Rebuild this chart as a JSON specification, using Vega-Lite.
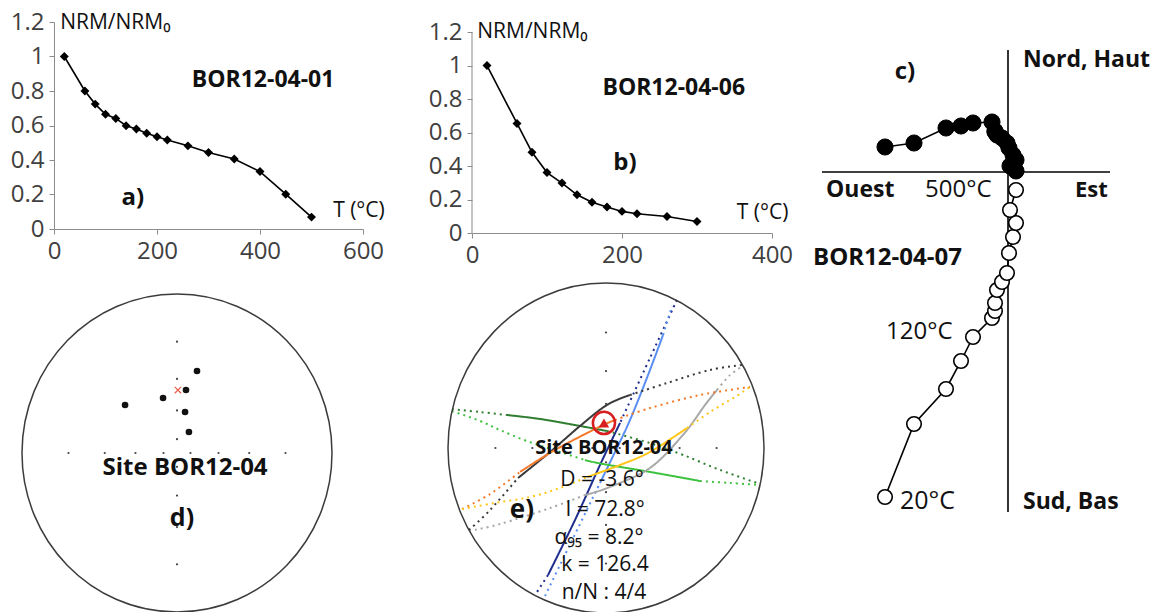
{
 "$schema": "https://vega.github.io/schema/vega-lite/v6.json",
 "autosize": {"type": "none"},
 "padding": {"left": 54, "top": 22, "right": 1100, "bottom": 590},
 "config": {
  "view": {"stroke": null},
  "text": {"font": "Open Sans", "color": "#111", "baseline": "middle"},
  "axis": {"grid": false, "labelFont": "Open Sans", "labelFontSize": 24, "labelColor": "#404040", "domainColor": "#8c8c8c", "tickColor": "#8c8c8c", "tickSize": 5, "labelFlush": false, "labelOverlap": false, "title": null, "labelPadding": 5}
 },
 "datasets": {
  "nrmA": [{"T":20,"r":1.0},{"T":60,"r":0.80},{"T":80,"r":0.724},{"T":100,"r":0.665},{"T":120,"r":0.641},{"T":140,"r":0.599},{"T":160,"r":0.58},{"T":180,"r":0.555},{"T":200,"r":0.535},{"T":220,"r":0.516},{"T":260,"r":0.482},{"T":300,"r":0.443},{"T":350,"r":0.406},{"T":400,"r":0.333},{"T":450,"r":0.202},{"T":500,"r":0.069}],
  "nrmB": [{"T":20,"r":1.0},{"T":60,"r":0.654},{"T":80,"r":0.482},{"T":100,"r":0.361},{"T":120,"r":0.298},{"T":140,"r":0.228},{"T":160,"r":0.184},{"T":180,"r":0.155},{"T":200,"r":0.129},{"T":220,"r":0.115},{"T":260,"r":0.099},{"T":300,"r":0.069}],
  "zij": [
   {"T":20,"E":-12.3,"N":2.5,"Up":-32.5},
   {"T":60,"E":-9.4,"N":2.9,"Up":-25.2},
   {"T":80,"E":-6.2,"N":4.4,"Up":-21.7},
   {"T":100,"E":-4.7,"N":4.6,"Up":-18.9},
   {"T":120,"E":-3.5,"N":4.9,"Up":-16.5},
   {"T":140,"E":-1.6,"N":5.0,"Up":-14.6},
   {"T":160,"E":-1.3,"N":4.1,"Up":-13.9},
   {"T":180,"E":-1.3,"N":4.0,"Up":-13.1},
   {"T":200,"E":-1.1,"N":3.7,"Up":-11.8},
   {"T":220,"E":-0.6,"N":3.4,"Up":-11.0},
   {"T":260,"E":-0.1,"N":2.9,"Up":-10.1},
   {"T":300,"E":0.1,"N":2.4,"Up":-8.1},
   {"T":350,"E":0.5,"N":1.7,"Up":-6.5},
   {"T":400,"E":0.8,"N":1.2,"Up":-5.1},
   {"T":450,"E":0.2,"N":0.6,"Up":-3.8},
   {"T":500,"E":0.8,"N":0.1,"Up":-1.8}
  ],
  "grid": [{"x":0.087,"y":0},{"x":0.268,"y":0},{"x":0.466,"y":0},{"x":0.700,"y":0},{"x":-0.087,"y":0},{"x":-0.268,"y":0},{"x":-0.466,"y":0},{"x":-0.700,"y":0},{"x":0,"y":0.087},{"x":0,"y":0.268},{"x":0,"y":0.466},{"x":0,"y":0.700},{"x":0,"y":-0.087},{"x":0,"y":-0.268},{"x":0,"y":-0.466},{"x":0,"y":-0.700}],
  "dirD": [{"x":0.129,"y":0.516},{"x":0.058,"y":0.396},{"x":-0.090,"y":0.346},{"x":-0.335,"y":0.302},{"x":0.052,"y":0.258},{"x":0.077,"y":0.132}],
  "gcE": [
   {"gc":"navy","seg":"navy-a","part":"rest","i":1,"x":0.449,"y":0.897},{"gc":"navy","seg":"navy-a","part":"rest","i":2,"x":0.278,"y":0.545},{"gc":"navy","seg":"navy-a","part":"rest","i":3,"x":0.089,"y":0.152},
   {"gc":"navy","seg":"navy-b","part":"fit","i":1,"x":0.089,"y":0.152},{"gc":"navy","seg":"navy-b","part":"fit","i":2,"x":-0.038,"y":-0.103},{"gc":"navy","seg":"navy-b","part":"fit","i":3,"x":-0.196,"y":-0.436},{"gc":"navy","seg":"navy-b","part":"fit","i":4,"x":-0.367,"y":-0.770},
   {"gc":"navy","seg":"navy-c","part":"rest","i":1,"x":-0.367,"y":-0.770},{"gc":"navy","seg":"navy-c","part":"rest","i":2,"x":-0.449,"y":-0.891},
   {"gc":"lb","seg":"lb-a","part":"rest","i":1,"x":-0.386,"y":-0.897},{"gc":"lb","seg":"lb-a","part":"rest","i":2,"x":-0.291,"y":-0.709},{"gc":"lb","seg":"lb-a","part":"rest","i":3,"x":-0.177,"y":-0.485},{"gc":"lb","seg":"lb-a","part":"rest","i":4,"x":-0.038,"y":-0.212},
   {"gc":"lb","seg":"lb-b","part":"fit","i":1,"x":-0.038,"y":-0.212},{"gc":"lb","seg":"lb-b","part":"fit","i":2,"x":0.057,"y":-0.024},{"gc":"lb","seg":"lb-b","part":"fit","i":3,"x":0.152,"y":0.170},{"gc":"lb","seg":"lb-b","part":"fit","i":4,"x":0.266,"y":0.442},{"gc":"lb","seg":"lb-b","part":"fit","i":5,"x":0.361,"y":0.685},
   {"gc":"lb","seg":"lb-c","part":"rest","i":1,"x":0.361,"y":0.685},{"gc":"lb","seg":"lb-c","part":"rest","i":2,"x":0.418,"y":0.861},
   {"gc":"g1","seg":"g1-a","part":"rest","i":1,"x":-0.975,"y":0.236},{"gc":"g1","seg":"g1-a","part":"rest","i":2,"x":-0.797,"y":0.218},{"gc":"g1","seg":"g1-a","part":"rest","i":3,"x":-0.627,"y":0.2},
   {"gc":"g1","seg":"g1-b","part":"fit","i":1,"x":-0.627,"y":0.2},{"gc":"g1","seg":"g1-b","part":"fit","i":2,"x":-0.418,"y":0.176},{"gc":"g1","seg":"g1-b","part":"fit","i":3,"x":-0.196,"y":0.139},{"gc":"g1","seg":"g1-b","part":"fit","i":4,"x":0.006,"y":0.103},
   {"gc":"g1","seg":"g1-c","part":"rest","i":1,"x":0.006,"y":0.103},{"gc":"g1","seg":"g1-c","part":"rest","i":2,"x":0.278,"y":0.030},{"gc":"g1","seg":"g1-c","part":"rest","i":3,"x":0.487,"y":-0.042},{"gc":"g1","seg":"g1-c","part":"rest","i":4,"x":0.722,"y":-0.133},{"gc":"g1","seg":"g1-c","part":"rest","i":5,"x":0.975,"y":-0.218},
   {"gc":"g2","seg":"g2-a","part":"rest","i":1,"x":-0.975,"y":0.224},{"gc":"g2","seg":"g2-a","part":"rest","i":2,"x":-0.797,"y":0.164},{"gc":"g2","seg":"g2-a","part":"rest","i":3,"x":-0.671,"y":0.109},{"gc":"g2","seg":"g2-a","part":"rest","i":4,"x":-0.5,"y":0.042},{"gc":"g2","seg":"g2-a","part":"rest","i":5,"x":-0.291,"y":-0.024},{"gc":"g2","seg":"g2-a","part":"rest","i":6,"x":-0.133,"y":-0.073},
   {"gc":"g2","seg":"g2-b","part":"fit","i":1,"x":-0.133,"y":-0.073},{"gc":"g2","seg":"g2-b","part":"fit","i":2,"x":-0.019,"y":-0.097},{"gc":"g2","seg":"g2-b","part":"fit","i":3,"x":0.278,"y":-0.145},{"gc":"g2","seg":"g2-b","part":"fit","i":4,"x":0.595,"y":-0.2},
   {"gc":"g2","seg":"g2-c","part":"rest","i":1,"x":0.595,"y":-0.2},{"gc":"g2","seg":"g2-c","part":"rest","i":2,"x":0.785,"y":-0.212},{"gc":"g2","seg":"g2-c","part":"rest","i":3,"x":0.975,"y":-0.224},
   {"gc":"dg","seg":"dg-a","part":"rest","i":1,"x":-0.867,"y":-0.497},{"gc":"dg","seg":"dg-a","part":"rest","i":2,"x":-0.734,"y":-0.376},{"gc":"dg","seg":"dg-a","part":"rest","i":3,"x":-0.557,"y":-0.182},
   {"gc":"dg","seg":"dg-b","part":"fit","i":1,"x":-0.557,"y":-0.182},{"gc":"dg","seg":"dg-b","part":"fit","i":2,"x":-0.354,"y":-0.024},{"gc":"dg","seg":"dg-b","part":"fit","i":3,"x":-0.165,"y":0.133},{"gc":"dg","seg":"dg-b","part":"fit","i":4,"x":0.006,"y":0.261},{"gc":"dg","seg":"dg-b","part":"fit","i":5,"x":0.152,"y":0.321},
   {"gc":"dg","seg":"dg-c","part":"rest","i":1,"x":0.152,"y":0.321},{"gc":"dg","seg":"dg-c","part":"rest","i":2,"x":0.386,"y":0.394},{"gc":"dg","seg":"dg-c","part":"rest","i":3,"x":0.658,"y":0.473},{"gc":"dg","seg":"dg-c","part":"rest","i":4,"x":0.867,"y":0.503},
   {"gc":"lg","seg":"lg-a","part":"rest","i":1,"x":-0.867,"y":-0.503},{"gc":"lg","seg":"lg-a","part":"rest","i":2,"x":-0.671,"y":-0.461},{"gc":"lg","seg":"lg-a","part":"rest","i":3,"x":-0.354,"y":-0.364},{"gc":"lg","seg":"lg-a","part":"rest","i":4,"x":-0.133,"y":-0.285},
   {"gc":"lg","seg":"lg-b","part":"fit","i":1,"x":-0.133,"y":-0.285},{"gc":"lg","seg":"lg-b","part":"fit","i":2,"x":0.025,"y":-0.236},{"gc":"lg","seg":"lg-b","part":"fit","i":3,"x":0.278,"y":-0.121},{"gc":"lg","seg":"lg-b","part":"fit","i":4,"x":0.487,"y":0.079},{"gc":"lg","seg":"lg-b","part":"fit","i":5,"x":0.627,"y":0.261},{"gc":"lg","seg":"lg-b","part":"fit","i":6,"x":0.703,"y":0.352},
   {"gc":"lg","seg":"lg-c","part":"rest","i":1,"x":0.703,"y":0.352},{"gc":"lg","seg":"lg-c","part":"rest","i":2,"x":0.785,"y":0.442},{"gc":"lg","seg":"lg-c","part":"rest","i":3,"x":0.867,"y":0.497},
   {"gc":"or","seg":"or-a","part":"rest","i":1,"x":-0.911,"y":-0.370},{"gc":"or","seg":"or-a","part":"rest","i":2,"x":-0.734,"y":-0.279},{"gc":"or","seg":"or-a","part":"rest","i":3,"x":-0.544,"y":-0.145},
   {"gc":"or","seg":"or-b","part":"fit","i":1,"x":-0.544,"y":-0.145},{"gc":"or","seg":"or-b","part":"fit","i":2,"x":-0.323,"y":-0.012},{"gc":"or","seg":"or-b","part":"fit","i":3,"x":-0.057,"y":0.121},{"gc":"or","seg":"or-b","part":"fit","i":4,"x":0.057,"y":0.170},
   {"gc":"or","seg":"or-c","part":"rest","i":1,"x":0.057,"y":0.170},{"gc":"or","seg":"or-c","part":"rest","i":2,"x":0.278,"y":0.242},{"gc":"or","seg":"or-c","part":"rest","i":3,"x":0.595,"y":0.321},{"gc":"or","seg":"or-c","part":"rest","i":4,"x":0.911,"y":0.370},
   {"gc":"ye","seg":"ye-a","part":"rest","i":1,"x":-0.911,"y":-0.370},{"gc":"ye","seg":"ye-a","part":"rest","i":2,"x":-0.703,"y":-0.333},{"gc":"ye","seg":"ye-a","part":"rest","i":3,"x":-0.481,"y":-0.297},{"gc":"ye","seg":"ye-a","part":"rest","i":4,"x":-0.291,"y":-0.242},{"gc":"ye","seg":"ye-a","part":"rest","i":5,"x":-0.120,"y":-0.176},
   {"gc":"ye","seg":"ye-b","part":"fit","i":1,"x":-0.120,"y":-0.176},{"gc":"ye","seg":"ye-b","part":"fit","i":2,"x":0.089,"y":-0.103},{"gc":"ye","seg":"ye-b","part":"fit","i":3,"x":0.278,"y":-0.024},{"gc":"ye","seg":"ye-b","part":"fit","i":4,"x":0.513,"y":0.121},
   {"gc":"ye","seg":"ye-c","part":"rest","i":1,"x":0.513,"y":0.121},{"gc":"ye","seg":"ye-c","part":"rest","i":2,"x":0.658,"y":0.218},{"gc":"ye","seg":"ye-c","part":"rest","i":3,"x":0.816,"y":0.309},{"gc":"ye","seg":"ye-c","part":"rest","i":4,"x":0.911,"y":0.370}
  ]
 },
 "columns": 3,
 "align": "each",
 "bounds": "flush",
 "spacing": {"row": 27, "column": 109},
 "concat": [
  {
   "width": 309, "height": 207,
   "layer": [
    {"data": {"name": "nrmA"}, "mark": {"type": "line", "color": "#000", "strokeWidth": 1.6},
     "encoding": {"x": {"field": "T", "type": "quantitative", "scale": {"domain": [0, 600], "nice": false}, "axis": {"values": [0, 200, 400, 600], "labelOverlap": false}}, "y": {"field": "r", "type": "quantitative", "scale": {"domain": [0, 1.2], "nice": false}, "axis": {"values": [0, 0.2, 0.4, 0.6, 0.8, 1, 1.2], "format": ".1~f", "labelOverlap": false}}}},
    {"data": {"name": "nrmA"}, "mark": {"type": "point", "shape": "diamond", "filled": true, "color": "#000", "size": 80, "opacity": 1},
     "encoding": {"x": {"field": "T", "type": "quantitative", "scale": {"domain": [0, 600], "nice": false}, "axis": {"values": [0, 200, 400, 600], "labelOverlap": false}}, "y": {"field": "r", "type": "quantitative", "scale": {"domain": [0, 1.2], "nice": false}, "axis": {"values": [0, 0.2, 0.4, 0.6, 0.8, 1, 1.2], "format": ".1~f", "labelOverlap": false}}}},
    {"data": {"values": [{}]}, "mark": {"type": "text", "text": "NRM/NRM₀", "fontSize": 21, "align": "left"},
     "encoding": {"x": {"datum": 12, "type": "quantitative", "scale": {"domain": [0, 600], "nice": false}, "axis": {"values": [0, 200, 400, 600], "labelOverlap": false}}, "y": {"datum": 1.194, "type": "quantitative", "scale": {"domain": [0, 1.2], "nice": false}, "axis": {"values": [0, 0.2, 0.4, 0.6, 0.8, 1, 1.2], "format": ".1~f", "labelOverlap": false}}}},
    {"data": {"values": [{}]}, "mark": {"type": "text", "text": "BOR12-04-01", "fontSize": 23, "fontWeight": "bold", "align": "center"},
     "encoding": {"x": {"datum": 406, "type": "quantitative", "scale": {"domain": [0, 600], "nice": false}, "axis": {"values": [0, 200, 400, 600], "labelOverlap": false}}, "y": {"datum": 0.864, "type": "quantitative", "scale": {"domain": [0, 1.2], "nice": false}, "axis": {"values": [0, 0.2, 0.4, 0.6, 0.8, 1, 1.2], "format": ".1~f", "labelOverlap": false}}}},
    {"data": {"values": [{}]}, "mark": {"type": "text", "text": "a)", "fontSize": 24, "fontWeight": "bold", "align": "center"},
     "encoding": {"x": {"datum": 153, "type": "quantitative", "scale": {"domain": [0, 600], "nice": false}, "axis": {"values": [0, 200, 400, 600], "labelOverlap": false}}, "y": {"datum": 0.18, "type": "quantitative", "scale": {"domain": [0, 1.2], "nice": false}, "axis": {"values": [0, 0.2, 0.4, 0.6, 0.8, 1, 1.2], "format": ".1~f", "labelOverlap": false}}}},
    {"data": {"values": [{}]}, "mark": {"type": "text", "text": "T (°C)", "fontSize": 21, "align": "left"},
     "encoding": {"x": {"datum": 542, "type": "quantitative", "scale": {"domain": [0, 600], "nice": false}, "axis": {"values": [0, 200, 400, 600], "labelOverlap": false}}, "y": {"datum": 0.104, "type": "quantitative", "scale": {"domain": [0, 1.2], "nice": false}, "axis": {"values": [0, 0.2, 0.4, 0.6, 0.8, 1, 1.2], "format": ".1~f", "labelOverlap": false}}}}
   ]
  },
  {
   "width": 300, "height": 211,
   "layer": [
    {"data": {"values": [{}]}, "mark": {"type": "rule", "color": "#8c8c8c", "strokeWidth": 1},
     "encoding": {"x": {"datum": 0, "type": "quantitative", "scale": {"domain": [0, 400], "nice": false}, "axis": {"values": [0, 200, 400], "labelOverlap": false}}, "y": {"datum": 0, "type": "quantitative", "scale": {"domain": [0, 1.26], "nice": false}, "axis": {"values": [0, 0.2, 0.4, 0.6, 0.8, 1, 1.2], "format": ".1~f", "labelOverlap": false, "domain": false}}, "y2": {"datum": 1.2}}},
    {"data": {"name": "nrmB"}, "mark": {"type": "line", "color": "#000", "strokeWidth": 1.6},
     "encoding": {"x": {"field": "T", "type": "quantitative", "scale": {"domain": [0, 400], "nice": false}, "axis": {"values": [0, 200, 400], "labelOverlap": false}}, "y": {"field": "r", "type": "quantitative", "scale": {"domain": [0, 1.26], "nice": false}, "axis": {"values": [0, 0.2, 0.4, 0.6, 0.8, 1, 1.2], "format": ".1~f", "labelOverlap": false, "domain": false}}}},
    {"data": {"name": "nrmB"}, "mark": {"type": "point", "shape": "diamond", "filled": true, "color": "#000", "size": 80, "opacity": 1},
     "encoding": {"x": {"field": "T", "type": "quantitative", "scale": {"domain": [0, 400], "nice": false}, "axis": {"values": [0, 200, 400], "labelOverlap": false}}, "y": {"field": "r", "type": "quantitative", "scale": {"domain": [0, 1.26], "nice": false}, "axis": {"values": [0, 0.2, 0.4, 0.6, 0.8, 1, 1.2], "format": ".1~f", "labelOverlap": false, "domain": false}}}},
    {"data": {"values": [{}]}, "mark": {"type": "text", "text": "NRM/NRM₀", "fontSize": 21, "align": "left"},
     "encoding": {"x": {"datum": 7, "type": "quantitative", "scale": {"domain": [0, 400], "nice": false}, "axis": {"values": [0, 200, 400], "labelOverlap": false}}, "y": {"datum": 1.2, "type": "quantitative", "scale": {"domain": [0, 1.26], "nice": false}, "axis": {"values": [0, 0.2, 0.4, 0.6, 0.8, 1, 1.2], "format": ".1~f", "labelOverlap": false, "domain": false}}}},
    {"data": {"values": [{}]}, "mark": {"type": "text", "text": "BOR12-04-06", "fontSize": 23, "fontWeight": "bold", "align": "center"},
     "encoding": {"x": {"datum": 269, "type": "quantitative", "scale": {"domain": [0, 400], "nice": false}, "axis": {"values": [0, 200, 400], "labelOverlap": false}}, "y": {"datum": 0.866, "type": "quantitative", "scale": {"domain": [0, 1.26], "nice": false}, "axis": {"values": [0, 0.2, 0.4, 0.6, 0.8, 1, 1.2], "format": ".1~f", "labelOverlap": false, "domain": false}}}},
    {"data": {"values": [{}]}, "mark": {"type": "text", "text": "b)", "fontSize": 24, "fontWeight": "bold", "align": "center"},
     "encoding": {"x": {"datum": 204, "type": "quantitative", "scale": {"domain": [0, 400], "nice": false}, "axis": {"values": [0, 200, 400], "labelOverlap": false}}, "y": {"datum": 0.418, "type": "quantitative", "scale": {"domain": [0, 1.26], "nice": false}, "axis": {"values": [0, 0.2, 0.4, 0.6, 0.8, 1, 1.2], "format": ".1~f", "labelOverlap": false, "domain": false}}}},
    {"data": {"values": [{}]}, "mark": {"type": "text", "text": "T (°C)", "fontSize": 21, "align": "left"},
     "encoding": {"x": {"datum": 353, "type": "quantitative", "scale": {"domain": [0, 400], "nice": false}, "axis": {"values": [0, 200, 400], "labelOverlap": false}}, "y": {"datum": 0.119, "type": "quantitative", "scale": {"domain": [0, 1.26], "nice": false}, "axis": {"values": [0, 0.2, 0.4, 0.6, 0.8, 1, 1.2], "format": ".1~f", "labelOverlap": false, "domain": false}}}}
   ]
  },
  {
   "width": 229, "height": 211,
   "layer": [
    {"data": {"values": [{}]}, "mark": {"type": "rule", "color": "#000", "strokeWidth": 1.6},
     "encoding": {"x": {"datum": -18.6, "type": "quantitative", "scale": {"domain": [-12.7, 10.2], "nice": false, "zero": false}, "axis": null}, "x2": {"datum": 10.2}, "y": {"datum": 0, "type": "quantitative", "scale": {"domain": [-6.1, 15.0], "nice": false, "zero": false}, "axis": null}}},
    {"data": {"values": [{}]}, "mark": {"type": "rule", "color": "#000", "strokeWidth": 1.6},
     "encoding": {"x": {"datum": 0, "type": "quantitative", "scale": {"domain": [-12.7, 10.2], "nice": false, "zero": false}, "axis": null}, "y": {"datum": 12.2, "type": "quantitative", "scale": {"domain": [-6.1, 15.0], "nice": false, "zero": false}, "axis": null}, "y2": {"datum": -34}}},
    {"data": {"name": "zij"}, "mark": {"type": "line", "color": "#000", "strokeWidth": 1.6},
     "encoding": {"x": {"field": "E", "type": "quantitative", "scale": {"domain": [-12.7, 10.2], "nice": false, "zero": false}, "axis": null}, "y": {"field": "N", "type": "quantitative", "scale": {"domain": [-6.1, 15.0], "nice": false, "zero": false}, "axis": null}, "order": {"field": "T"}}},
    {"data": {"name": "zij"}, "mark": {"type": "line", "color": "#000", "strokeWidth": 1.6},
     "encoding": {"x": {"field": "E", "type": "quantitative", "scale": {"domain": [-12.7, 10.2], "nice": false, "zero": false}, "axis": null}, "y": {"field": "Up", "type": "quantitative", "scale": {"domain": [-6.1, 15.0], "nice": false, "zero": false}, "axis": null}, "order": {"field": "T"}}},
    {"data": {"name": "zij"}, "mark": {"type": "point", "shape": "circle", "filled": true, "fill": "#fff", "stroke": "#000", "strokeWidth": 1.6, "size": 210, "opacity": 1},
     "encoding": {"x": {"field": "E", "type": "quantitative", "scale": {"domain": [-12.7, 10.2], "nice": false, "zero": false}, "axis": null}, "y": {"field": "Up", "type": "quantitative", "scale": {"domain": [-6.1, 15.0], "nice": false, "zero": false}, "axis": null}}},
    {"data": {"name": "zij"}, "mark": {"type": "point", "shape": "circle", "filled": true, "fill": "#000", "stroke": "#000", "strokeWidth": 1, "size": 260, "opacity": 1},
     "encoding": {"x": {"field": "E", "type": "quantitative", "scale": {"domain": [-12.7, 10.2], "nice": false, "zero": false}, "axis": null}, "y": {"field": "N", "type": "quantitative", "scale": {"domain": [-6.1, 15.0], "nice": false, "zero": false}, "axis": null}}},
    {"data": {"values": [{}]}, "mark": {"type": "text", "text": "c)", "fontSize": 24, "fontWeight": "bold", "align": "center"},
     "encoding": {"x": {"datum": -10.3, "type": "quantitative", "scale": {"domain": [-12.7, 10.2], "nice": false, "zero": false}, "axis": null}, "y": {"datum": 10.0, "type": "quantitative", "scale": {"domain": [-6.1, 15.0], "nice": false, "zero": false}, "axis": null}}},
    {"data": {"values": [{}]}, "mark": {"type": "text", "text": "Nord, Haut", "fontSize": 23, "fontWeight": "bold", "align": "left"},
     "encoding": {"x": {"datum": 1.5, "type": "quantitative", "scale": {"domain": [-12.7, 10.2], "nice": false, "zero": false}, "axis": null}, "y": {"datum": 11.2, "type": "quantitative", "scale": {"domain": [-6.1, 15.0], "nice": false, "zero": false}, "axis": null}}},
    {"data": {"values": [{}]}, "mark": {"type": "text", "text": "Ouest", "fontSize": 23, "fontWeight": "bold", "align": "left"},
     "encoding": {"x": {"datum": -18.2, "type": "quantitative", "scale": {"domain": [-12.7, 10.2], "nice": false, "zero": false}, "axis": null}, "y": {"datum": -1.8, "type": "quantitative", "scale": {"domain": [-6.1, 15.0], "nice": false, "zero": false}, "axis": null}}},
    {"data": {"values": [{}]}, "mark": {"type": "text", "text": "500°C", "fontSize": 24, "align": "left"},
     "encoding": {"x": {"datum": -8.3, "type": "quantitative", "scale": {"domain": [-12.7, 10.2], "nice": false, "zero": false}, "axis": null}, "y": {"datum": -1.8, "type": "quantitative", "scale": {"domain": [-6.1, 15.0], "nice": false, "zero": false}, "axis": null}}},
    {"data": {"values": [{}]}, "mark": {"type": "text", "text": "Est", "fontSize": 22, "fontWeight": "bold", "align": "left"},
     "encoding": {"x": {"datum": 6.7, "type": "quantitative", "scale": {"domain": [-12.7, 10.2], "nice": false, "zero": false}, "axis": null}, "y": {"datum": -1.8, "type": "quantitative", "scale": {"domain": [-6.1, 15.0], "nice": false, "zero": false}, "axis": null}}},
    {"data": {"values": [{}]}, "mark": {"type": "text", "text": "BOR12-04-07", "fontSize": 24, "fontWeight": "bold", "align": "left"},
     "encoding": {"x": {"datum": -19.5, "type": "quantitative", "scale": {"domain": [-12.7, 10.2], "nice": false, "zero": false}, "axis": null}, "y": {"datum": -8.6, "type": "quantitative", "scale": {"domain": [-6.1, 15.0], "nice": false, "zero": false}, "axis": null}}},
    {"data": {"values": [{}]}, "mark": {"type": "text", "text": "120°C", "fontSize": 24, "align": "left"},
     "encoding": {"x": {"datum": -12.2, "type": "quantitative", "scale": {"domain": [-12.7, 10.2], "nice": false, "zero": false}, "axis": null}, "y": {"datum": -16.0, "type": "quantitative", "scale": {"domain": [-6.1, 15.0], "nice": false, "zero": false}, "axis": null}}},
    {"data": {"values": [{}]}, "mark": {"type": "text", "text": "20°C", "fontSize": 25, "align": "left"},
     "encoding": {"x": {"datum": -10.8, "type": "quantitative", "scale": {"domain": [-12.7, 10.2], "nice": false, "zero": false}, "axis": null}, "y": {"datum": -32.9, "type": "quantitative", "scale": {"domain": [-6.1, 15.0], "nice": false, "zero": false}, "axis": null}}},
    {"data": {"values": [{}]}, "mark": {"type": "text", "text": "Sud, Bas", "fontSize": 23, "fontWeight": "bold", "align": "left"},
     "encoding": {"x": {"datum": 1.5, "type": "quantitative", "scale": {"domain": [-12.7, 10.2], "nice": false, "zero": false}, "axis": null}, "y": {"datum": -33.0, "type": "quantitative", "scale": {"domain": [-6.1, 15.0], "nice": false, "zero": false}, "axis": null}}}
   ]
  },
  {
   "width": 300, "height": 352,
   "layer": [
    {"data": {"values": [{}]}, "mark": {"type": "point", "shape": "M -1 0 C -1 -0.5667 -0.5523 -1.026 0 -1.026 C 0.5523 -1.026 1 -0.5667 1 0 C 1 0.5667 0.5523 1.026 0 1.026 C -0.5523 1.026 -1 0.5667 -1 0 Z", "filled": false, "stroke": "#3c3c3c", "strokeWidth": 1.5, "size": 96100, "opacity": 1},
     "encoding": {"x": {"datum": 0, "type": "quantitative", "scale": {"domain": [-0.7935, 1.1419], "nice": false, "zero": false}, "axis": null}, "y": {"datum": 0, "type": "quantitative", "scale": {"domain": [-1.0, 1.2138], "nice": false, "zero": false}, "axis": null}}},
    {"data": {"name": "grid"}, "mark": {"type": "point", "shape": "circle", "filled": true, "color": "#444", "size": 5, "opacity": 1},
     "encoding": {"x": {"field": "x", "type": "quantitative", "scale": {"domain": [-0.7935, 1.1419], "nice": false, "zero": false}, "axis": null}, "y": {"field": "y", "type": "quantitative", "scale": {"domain": [-1.0, 1.2138], "nice": false, "zero": false}, "axis": null}}},
    {"data": {"name": "dirD"}, "mark": {"type": "point", "shape": "circle", "filled": true, "color": "#111", "size": 44, "opacity": 1},
     "encoding": {"x": {"field": "x", "type": "quantitative", "scale": {"domain": [-0.7935, 1.1419], "nice": false, "zero": false}, "axis": null}, "y": {"field": "y", "type": "quantitative", "scale": {"domain": [-1.0, 1.2138], "nice": false, "zero": false}, "axis": null}}},
    {"data": {"values": [{}]}, "mark": {"type": "point", "shape": "M -1 -1 L 1 1 M 1 -1 L -1 1", "filled": false, "stroke": "#e8604a", "strokeWidth": 1.3, "size": 40, "opacity": 1},
     "encoding": {"x": {"datum": 0.006, "type": "quantitative", "scale": {"domain": [-0.7935, 1.1419], "nice": false, "zero": false}, "axis": null}, "y": {"datum": 0.396, "type": "quantitative", "scale": {"domain": [-1.0, 1.2138], "nice": false, "zero": false}, "axis": null}}},
    {"data": {"values": [{}]}, "mark": {"type": "text", "text": "Site BOR12-04", "fontSize": 24, "fontWeight": "bold", "align": "center"},
     "encoding": {"x": {"datum": 0.052, "type": "quantitative", "scale": {"domain": [-0.7935, 1.1419], "nice": false, "zero": false}, "axis": null}, "y": {"datum": -0.094, "type": "quantitative", "scale": {"domain": [-1.0, 1.2138], "nice": false, "zero": false}, "axis": null}}},
    {"data": {"values": [{}]}, "mark": {"type": "text", "text": "d)", "fontSize": 25, "fontWeight": "bold", "align": "center"},
     "encoding": {"x": {"datum": 0.032, "type": "quantitative", "scale": {"domain": [-0.7935, 1.1419], "nice": false, "zero": false}, "axis": null}, "y": {"datum": -0.409, "type": "quantitative", "scale": {"domain": [-1.0, 1.2138], "nice": false, "zero": false}, "axis": null}}}
   ]
  },
  {
   "width": 300, "height": 352,
   "layer": [
    {"data": {"name": "gcE"}, "mark": {"type": "line", "strokeWidth": 2, "interpolate": "cardinal"},
     "encoding": {
      "x": {"field": "x", "type": "quantitative", "scale": {"domain": [-0.8481, 1.0506], "nice": false, "zero": false}, "axis": null},
      "y": {"field": "y", "type": "quantitative", "scale": {"domain": [-0.9939, 1.1394], "nice": false, "zero": false}, "axis": null},
      "color": {"field": "gc", "type": "nominal", "legend": null, "scale": {"domain": ["navy", "lb", "g1", "g2", "dg", "lg", "or", "ye"], "range": ["#1f2d8f", "#5a8ef2", "#2f7d2f", "#3fc23f", "#3a3a3a", "#a8a8a8", "#f47a2a", "#ffc619"]}},
      "strokeDash": {"field": "part", "type": "nominal", "legend": null, "scale": {"domain": ["fit", "rest"], "range": [[1, 0], [2, 4]]}},
      "detail": {"field": "seg"},
      "order": {"field": "i"}}},
    {"data": {"values": [{}]}, "mark": {"type": "point", "shape": "M -1 0 C -1 -0.5766 -0.5523 -1.044 0 -1.044 C 0.5523 -1.044 1 -0.5766 1 0 C 1 0.5766 0.5523 1.044 0 1.044 C -0.5523 1.044 -1 0.5766 -1 0 Z", "filled": false, "stroke": "#3c3c3c", "strokeWidth": 1.5, "size": 99856, "opacity": 1},
     "encoding": {"x": {"datum": 0, "type": "quantitative", "scale": {"domain": [-0.8481, 1.0506], "nice": false, "zero": false}, "axis": null}, "y": {"datum": 0, "type": "quantitative", "scale": {"domain": [-0.9939, 1.1394], "nice": false, "zero": false}, "axis": null}}},
    {"data": {"name": "grid"}, "mark": {"type": "point", "shape": "circle", "filled": true, "color": "#444", "size": 5, "opacity": 1},
     "encoding": {"x": {"field": "x", "type": "quantitative", "scale": {"domain": [-0.8481, 1.0506], "nice": false, "zero": false}, "axis": null}, "y": {"field": "y", "type": "quantitative", "scale": {"domain": [-0.9939, 1.1394], "nice": false, "zero": false}, "axis": null}}},
    {"data": {"values": [{}]}, "mark": {"type": "point", "shape": "circle", "filled": false, "stroke": "#d81e1e", "strokeWidth": 2.5, "size": 490, "opacity": 1},
     "encoding": {"x": {"datum": -0.013, "type": "quantitative", "scale": {"domain": [-0.8481, 1.0506], "nice": false, "zero": false}, "axis": null}, "y": {"datum": 0.152, "type": "quantitative", "scale": {"domain": [-0.9939, 1.1394], "nice": false, "zero": false}, "axis": null}}},
    {"data": {"values": [{}]}, "mark": {"type": "point", "shape": "triangle-up", "filled": true, "color": "#d81e1e", "size": 110, "opacity": 1},
     "encoding": {"x": {"datum": -0.013, "type": "quantitative", "scale": {"domain": [-0.8481, 1.0506], "nice": false, "zero": false}, "axis": null}, "y": {"datum": 0.152, "type": "quantitative", "scale": {"domain": [-0.9939, 1.1394], "nice": false, "zero": false}, "axis": null}}},
    {"data": {"values": [{}]}, "mark": {"type": "text", "text": "Site BOR12-04", "fontSize": 20, "fontWeight": "bold", "align": "center"},
     "encoding": {"x": {"datum": -0.013, "type": "quantitative", "scale": {"domain": [-0.8481, 1.0506], "nice": false, "zero": false}, "axis": null}, "y": {"datum": 0.0, "type": "quantitative", "scale": {"domain": [-0.9939, 1.1394], "nice": false, "zero": false}, "axis": null}}},
    {"data": {"values": [{}]}, "mark": {"type": "text", "text": "D = -3.6°", "fontSize": 21, "align": "center"},
     "encoding": {"x": {"datum": -0.025, "type": "quantitative", "scale": {"domain": [-0.8481, 1.0506], "nice": false, "zero": false}, "axis": null}, "y": {"datum": -0.194, "type": "quantitative", "scale": {"domain": [-0.9939, 1.1394], "nice": false, "zero": false}, "axis": null}}},
    {"data": {"values": [{}]}, "mark": {"type": "text", "text": "I = 72.8°", "fontSize": 21, "align": "center"},
     "encoding": {"x": {"datum": -0.006, "type": "quantitative", "scale": {"domain": [-0.8481, 1.0506], "nice": false, "zero": false}, "axis": null}, "y": {"datum": -0.376, "type": "quantitative", "scale": {"domain": [-0.9939, 1.1394], "nice": false, "zero": false}, "axis": null}}},
    {"data": {"values": [{}]}, "mark": {"type": "text", "text": "α₉₅ = 8.2°", "fontSize": 21, "align": "center"},
     "encoding": {"x": {"datum": -0.044, "type": "quantitative", "scale": {"domain": [-0.8481, 1.0506], "nice": false, "zero": false}, "axis": null}, "y": {"datum": -0.545, "type": "quantitative", "scale": {"domain": [-0.9939, 1.1394], "nice": false, "zero": false}, "axis": null}}},
    {"data": {"values": [{}]}, "mark": {"type": "text", "text": "k = 126.4", "fontSize": 21, "align": "center"},
     "encoding": {"x": {"datum": -0.006, "type": "quantitative", "scale": {"domain": [-0.8481, 1.0506], "nice": false, "zero": false}, "axis": null}, "y": {"datum": -0.709, "type": "quantitative", "scale": {"domain": [-0.9939, 1.1394], "nice": false, "zero": false}, "axis": null}}},
    {"data": {"values": [{}]}, "mark": {"type": "text", "text": "n/N : 4/4", "fontSize": 21, "align": "center"},
     "encoding": {"x": {"datum": -0.013, "type": "quantitative", "scale": {"domain": [-0.8481, 1.0506], "nice": false, "zero": false}, "axis": null}, "y": {"datum": -0.879, "type": "quantitative", "scale": {"domain": [-0.9939, 1.1394], "nice": false, "zero": false}, "axis": null}}},
    {"data": {"values": [{}]}, "mark": {"type": "text", "text": "e)", "fontSize": 26, "fontWeight": "bold", "align": "center"},
     "encoding": {"x": {"datum": -0.532, "type": "quantitative", "scale": {"domain": [-0.8481, 1.0506], "nice": false, "zero": false}, "axis": null}, "y": {"datum": -0.376, "type": "quantitative", "scale": {"domain": [-0.9939, 1.1394], "nice": false, "zero": false}, "axis": null}}}
   ]
  }
 ]
}
